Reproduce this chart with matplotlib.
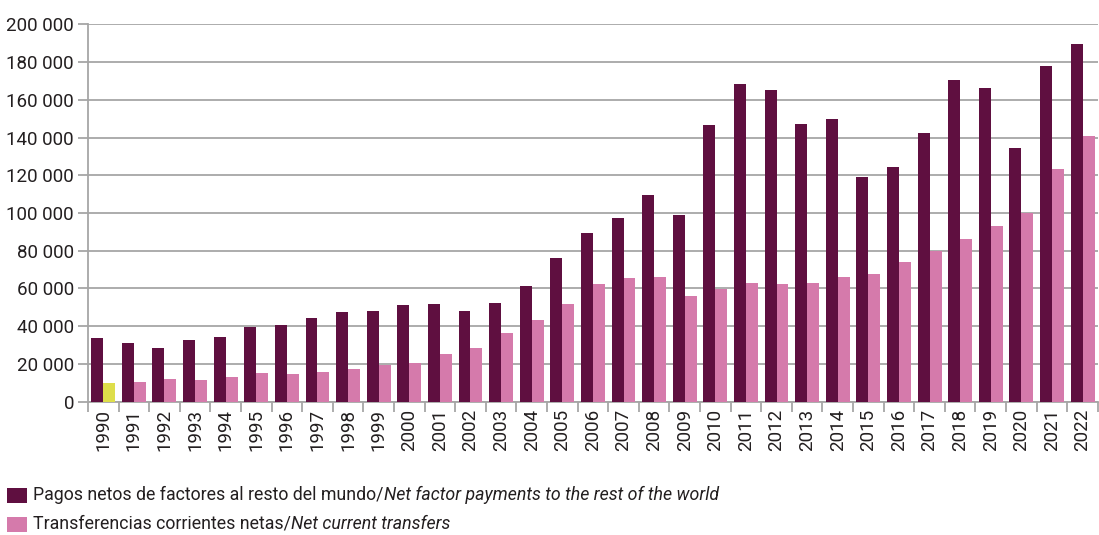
import matplotlib
matplotlib.use("Agg")
import matplotlib.pyplot as plt
import numpy as np
from matplotlib.offsetbox import HPacker, TextArea, DrawingArea, AnchoredOffsetbox
from matplotlib.patches import Rectangle
from matplotlib.ticker import FuncFormatter, MultipleLocator, FixedLocator

years = [str(y) for y in range(1990, 2023)]
net_factor_payments = [33800, 31000, 28500, 32700, 34200, 39600, 40700, 44300, 47500, 48000,
                       51200, 51700, 48000, 52300, 61300, 76100, 89400, 97300, 109500, 98900,
                       146700, 168400, 165200, 147200, 149900, 119100, 124400, 142400, 170500,
                       166300, 134500, 178000, 189600]
net_current_transfers = [9800, 10500, 12000, 11500, 13000, 15200, 14600, 15800, 17300, 19400,
                         20400, 25200, 28400, 36300, 43200, 51700, 62300, 65500, 66000, 56000,
                         59700, 62900, 62300, 62900, 66000, 67600, 74000, 79800, 86200, 93100,
                         100000, 123300, 140800]
label_es_1 = "Pagos netos de factores al resto del mundo/"
label_en_1 = "Net factor payments to the rest of the world"
label_es_2 = "Transferencias corrientes netas/"
label_en_2 = "Net current transfers"

DARK = "#5f0f40"
PINK = "#d57aab"
YELLOW = "#dede4a"
GRID = "#a6a6a6"
TXT = "#231f20"
FONT = ["Roboto", "DejaVu Sans"]
plt.rcParams['font.family'] = FONT

fig = plt.figure(figsize=(10.99, 5.35), dpi=100)
ax = fig.add_axes([0.080, 0.2492, 0.919, 0.7054])

x = np.arange(len(years))
w = 0.39
ax.bar(x - 0.195, net_factor_payments, width=w, color=DARK, zorder=3)
cols = [YELLOW] + [PINK] * (len(years) - 1)
ax.bar(x + 0.195, net_current_transfers, width=w, color=cols, zorder=3)

ax.set_xlim(-0.5, len(years) - 0.5)
ax.set_ylim(0, 200000)
ax.yaxis.set_major_locator(MultipleLocator(20000))
ax.yaxis.set_major_formatter(FuncFormatter(lambda v, p: f"{int(v):,}".replace(",", " ")))
ax.grid(axis='y', color=GRID, linewidth=1.3, zorder=0)

ax.set_xticks(x)
ax.set_xticklabels(years, rotation=90)
ax.xaxis.set_minor_locator(FixedLocator(np.arange(-0.5, len(years), 1.0)))
ax.tick_params(axis='x', which='major', length=0, pad=5, labelsize=13.5, colors=TXT)
ax.tick_params(axis='x', which='minor', length=7, color=GRID, width=1.3)
ax.tick_params(axis='y', length=7, color=GRID, width=1.3, labelsize=13.5, labelcolor=TXT, pad=3)

for s in ['top', 'right']:
    ax.spines[s].set_visible(False)
for s in ['left', 'bottom']:
    ax.spines[s].set_color(GRID)
    ax.spines[s].set_linewidth(1.3)

PT = 0.72  # pixels -> points at dpi 100

def row(color, es, en, ycenter_px):
    da = DrawingArea(20 * PT, 15 * PT, 0, 0)
    da.add_artist(Rectangle((0, 0), 20 * PT, 15 * PT, facecolor=color, edgecolor='none'))
    t1 = TextArea(es, textprops=dict(fontsize=12.8, color=TXT, family=FONT))
    t2 = TextArea(en, textprops=dict(fontsize=12.8, color=TXT, style='italic', family=FONT))
    pk = HPacker(children=[da, HPacker(children=[t1, t2], pad=0, sep=0)], align='center',
                 pad=0, sep=6 * PT)
    a = AnchoredOffsetbox(loc='center left', child=pk, pad=0, frameon=False, borderpad=0,
                          bbox_to_anchor=(7 / 1099, 1 - ycenter_px / 535),
                          bbox_transform=fig.transFigure)
    fig.add_artist(a)

row(DARK, label_es_1, label_en_1, 495)
row(PINK, label_es_2, label_en_2, 524)

fig.savefig("out.png", dpi=100)
